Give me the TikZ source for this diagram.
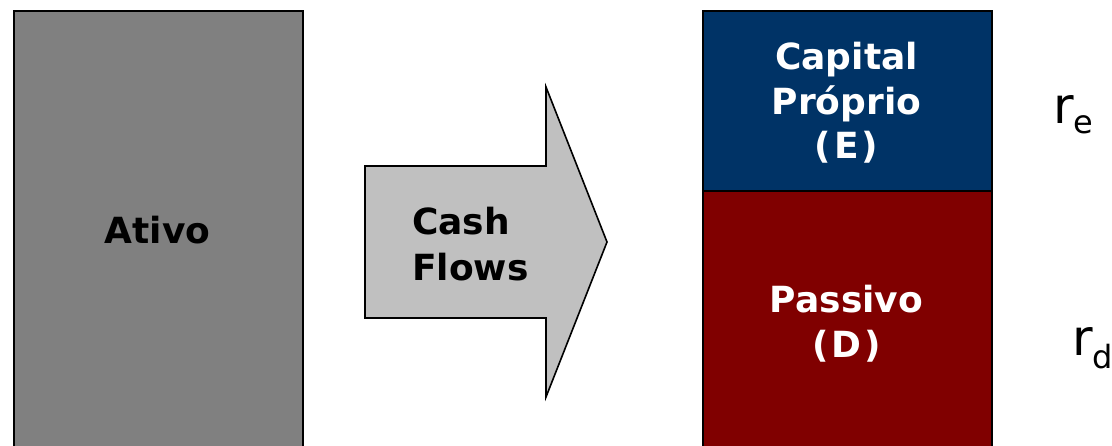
\documentclass[tikz,border=0pt]{standalone}
\usepackage{fontspec}
\setmainfont{DejaVu Sans}
\definecolor{assetgray}{HTML}{808080}
\definecolor{flowgray}{HTML}{C0C0C0}
\definecolor{equityblue}{HTML}{003366}
\definecolor{debtred}{HTML}{800000}
\tikzset{
  block/.style={draw=black, line width=1.8pt, inner sep=0pt, anchor=north west},
  label/.style={inner sep=0pt, anchor=base, font=\bfseries\fontsize{36}{44}\selectfont},
  rate/.style={inner sep=0pt, anchor=base west, font=\fontsize{50}{60}\selectfont}
}
\newcommand{\rsub}[2]{r\raisebox{-#2}{\fontsize{32}{38}\selectfont #1}}
\newcommand{\paren}[1]{(\kern3pt#1\kern3pt)}
\begin{document}
\begin{tikzpicture}[x=1pt, y=-1pt]
  \useasboundingbox (0,0) rectangle (1112,445);
  \begin{scope}
    \clip (0,0) rectangle (1112,445);
    % assets
    \node[block, fill=assetgray, minimum width=289pt, minimum height=440pt] (ativo) at (13,10) {};
    % cash flow arrow
    \draw[fill=flowgray, draw=black, line width=1.6pt, line join=miter]
      (365,166) -- (546,166) -- (546,87) -- (607,242) -- (546,397) -- (546,318) -- (365,318) -- cycle;
    % liabilities and equity
    \node[block, fill=debtred, minimum width=289pt, minimum height=260pt] (passivo) at (702,190) {};
    \node[block, fill=equityblue, minimum width=289pt, minimum height=180pt] (capital) at (702,10) {};
  \end{scope}
  % labels
  \node[label] (tativo) at (157.5,243) {Ativo};
  \node[label, anchor=base west] (tcash) at (412,234) {Cash};
  \node[label, anchor=base west] (tflows) at (412,280) {Flows};
  \node[label, text=white] (tcap1) at (846.5,69.5) {Capital};
  \node[label, text=white] (tcap2) at (846.5,114) {Próprio};
  \node[label, text=white] (tcap3) at (846.5,158.5) {\paren{E}};
  \node[label, text=white] (tpas1) at (846.5,312) {Passivo};
  \node[label, text=white] (tpas2) at (846.5,357) {\paren{D}};
  % rates of return
  \node[rate] (re) at (1053,123) {\rsub{e}{10pt}};
  \node[rate] (rd) at (1072,355) {\rsub{d}{13pt}};
\end{tikzpicture}
\end{document}
